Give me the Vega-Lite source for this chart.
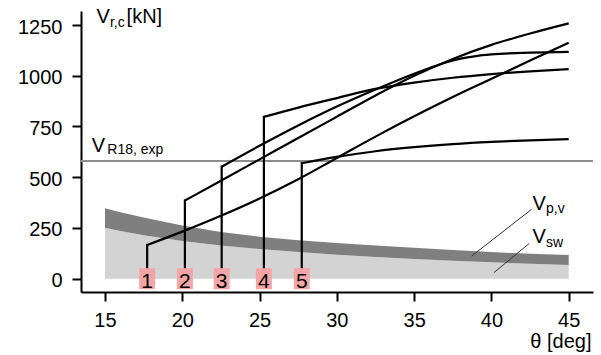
{
  "$schema": "https://vega.github.io/schema/vega-lite/v6.json",
  "width": 512,
  "height": 281,
  "autosize": {"type": "none"},
  "padding": {"left": 81, "top": 11, "right": 8, "bottom": 63},
  "config": {"view": {"stroke": null}, "font": "Liberation Sans"},
  "datasets": {
    "bands": [
      {"theta": 15, "sw": 251, "top": 347},
      {"theta": 16, "sw": 235, "top": 328},
      {"theta": 17.5, "sw": 214, "top": 302},
      {"theta": 20, "sw": 186, "top": 262},
      {"theta": 22.5, "sw": 164, "top": 230},
      {"theta": 25, "sw": 146, "top": 207},
      {"theta": 27.5, "sw": 131, "top": 190},
      {"theta": 30, "sw": 118, "top": 176},
      {"theta": 32.5, "sw": 107, "top": 163},
      {"theta": 35, "sw": 97, "top": 152},
      {"theta": 37.5, "sw": 89, "top": 141},
      {"theta": 40, "sw": 81, "top": 131},
      {"theta": 42.5, "sw": 74, "top": 123},
      {"theta": 45, "sw": 68, "top": 117}
    ],
    "curves": [
      {"c": 1, "theta": 17.73, "V": 166}, {"c": 1, "theta": 20, "V": 232}, {"c": 1, "theta": 22.5, "V": 310},
      {"c": 1, "theta": 25, "V": 395}, {"c": 1, "theta": 27.5, "V": 490}, {"c": 1, "theta": 30, "V": 595},
      {"c": 1, "theta": 32.5, "V": 700}, {"c": 1, "theta": 35, "V": 800}, {"c": 1, "theta": 37.5, "V": 895},
      {"c": 1, "theta": 40, "V": 985}, {"c": 1, "theta": 42.5, "V": 1075}, {"c": 1, "theta": 45, "V": 1162},
      {"c": 2, "theta": 20.17, "V": 385}, {"c": 2, "theta": 22.5, "V": 483}, {"c": 2, "theta": 25, "V": 588},
      {"c": 2, "theta": 27.5, "V": 693}, {"c": 2, "theta": 30, "V": 798}, {"c": 2, "theta": 32.5, "V": 903},
      {"c": 2, "theta": 35, "V": 1000}, {"c": 2, "theta": 37.5, "V": 1083}, {"c": 2, "theta": 40, "V": 1152},
      {"c": 2, "theta": 42.5, "V": 1208}, {"c": 2, "theta": 45, "V": 1258},
      {"c": 3, "theta": 22.55, "V": 552}, {"c": 3, "theta": 25, "V": 655}, {"c": 3, "theta": 27.5, "V": 755},
      {"c": 3, "theta": 30, "V": 848}, {"c": 3, "theta": 32.5, "V": 932}, {"c": 3, "theta": 35, "V": 1010},
      {"c": 3, "theta": 36, "V": 1038}, {"c": 3, "theta": 37, "V": 1064}, {"c": 3, "theta": 38, "V": 1084},
      {"c": 3, "theta": 39, "V": 1097}, {"c": 3, "theta": 40, "V": 1105}, {"c": 3, "theta": 42.5, "V": 1114},
      {"c": 3, "theta": 45, "V": 1118},
      {"c": 4, "theta": 25.28, "V": 797}, {"c": 4, "theta": 27.5, "V": 843}, {"c": 4, "theta": 30, "V": 890},
      {"c": 4, "theta": 32.5, "V": 935}, {"c": 4, "theta": 35, "V": 966}, {"c": 4, "theta": 37.5, "V": 990},
      {"c": 4, "theta": 40, "V": 1008}, {"c": 4, "theta": 42.5, "V": 1022}, {"c": 4, "theta": 45, "V": 1033},
      {"c": 5, "theta": 27.73, "V": 569}, {"c": 5, "theta": 30, "V": 600}, {"c": 5, "theta": 32.5, "V": 628},
      {"c": 5, "theta": 35, "V": 648}, {"c": 5, "theta": 37.5, "V": 663}, {"c": 5, "theta": 40, "V": 674},
      {"c": 5, "theta": 42.5, "V": 682}, {"c": 5, "theta": 45, "V": 688}
    ],
    "starts": [
      {"id": "1", "theta": 17.73, "V": 166, "base": 0},
      {"id": "2", "theta": 20.17, "V": 385, "base": 0},
      {"id": "3", "theta": 22.55, "V": 552, "base": 0},
      {"id": "4", "theta": 25.28, "V": 797, "base": 0},
      {"id": "5", "theta": 27.73, "V": 569, "base": 0}
    ],
    "leaders": [
      {"seg": "pv", "theta": 38.72, "V": 112}, {"seg": "pv", "theta": 42.6, "V": 342},
      {"seg": "sw", "theta": 40.16, "V": 30}, {"seg": "sw", "theta": 42.45, "V": 174}
    ],
    "mainText": [
      {"theta": 14.46, "V": 1258, "t": "V"},
      {"theta": 16.4, "V": 1258, "t": "[kN]"},
      {"theta": 14.14, "V": 626, "t": "V"},
      {"theta": 42.66, "V": 338, "t": "V"},
      {"theta": 42.66, "V": 174, "t": "V"}
    ],
    "subText": [
      {"theta": 15.32, "V": 1241, "t": "r,c"},
      {"theta": 15.15, "V": 612, "t": "R18, exp"},
      {"theta": 43.53, "V": 322, "t": "p,v"},
      {"theta": 43.53, "V": 158, "t": "sw"}
    ],
    "ref": [{"V": 580}]
  },
  "layer": [
    {
      "data": {"name": "bands"},
      "mark": {"type": "area", "color": "#d3d3d3"},
      "encoding": {
        "x": {"field": "theta", "type": "quantitative", "scale": {"domain": [13.45, 46.57], "nice": false, "zero": false},
          "axis": {"title": "θ [deg]", "values": [15, 20, 25, 30, 35, 40, 45], "format": "d", "grid": false,
            "domainColor": "black", "domainWidth": 2, "tickColor": "black", "tickWidth": 2, "tickSize": 9,
            "labelFontSize": 20, "labelFont": "Liberation Sans", "labelColor": "black", "labelPadding": 9,
            "labelFlush": false, "labelOverlap": false,
            "titleFontSize": 20, "titleFont": "Liberation Sans", "titleFontWeight": "normal", "titleColor": "black",
            "titleAlign": "right", "titleAnchor": "end", "titleBaseline": "alphabetic", "titleX": 510, "titleY": 55}},
        "y": {"field": "sw", "type": "quantitative", "scale": {"domain": [-65.5, 1319], "nice": false, "zero": false},
          "axis": {"title": null, "values": [0, 250, 500, 750, 1000, 1250], "format": "d", "grid": false,
            "domainColor": "black", "domainWidth": 2, "tickColor": "black", "tickWidth": 2, "tickSize": 9,
            "labelFontSize": 20, "labelFont": "Liberation Sans", "labelColor": "black", "labelPadding": 10,
            "labelOffset": 2, "labelFlush": false, "labelOverlap": false}},
        "y2": {"datum": 0}
      }
    },
    {
      "data": {"name": "bands"},
      "mark": {"type": "area", "color": "#7f7f7f"},
      "encoding": {
        "x": {"field": "theta", "type": "quantitative", "scale": {"domain": [13.45, 46.57], "nice": false, "zero": false}},
        "y": {"field": "top", "type": "quantitative", "scale": {"domain": [-65.5, 1319], "nice": false, "zero": false}},
        "y2": {"field": "sw"}
      }
    },
    {
      "data": {"name": "ref"},
      "mark": {"type": "rule", "color": "#8c8c8c", "strokeWidth": 2},
      "encoding": {
        "y": {"field": "V", "type": "quantitative", "scale": {"domain": [-65.5, 1319], "nice": false, "zero": false}}
      }
    },
    {
      "data": {"name": "leaders"},
      "mark": {"type": "line", "color": "#333333", "strokeWidth": 1},
      "encoding": {
        "x": {"field": "theta", "type": "quantitative", "scale": {"domain": [13.45, 46.57], "nice": false, "zero": false}},
        "y": {"field": "V", "type": "quantitative", "scale": {"domain": [-65.5, 1319], "nice": false, "zero": false}},
        "detail": {"field": "seg"}
      }
    },
    {
      "data": {"name": "starts"},
      "mark": {"type": "rule", "color": "black", "strokeWidth": 2.2, "strokeCap": "square"},
      "encoding": {
        "x": {"field": "theta", "type": "quantitative", "scale": {"domain": [13.45, 46.57], "nice": false, "zero": false}},
        "y": {"field": "base", "type": "quantitative", "scale": {"domain": [-65.5, 1319], "nice": false, "zero": false}},
        "y2": {"field": "V"}
      }
    },
    {
      "data": {"name": "curves"},
      "mark": {"type": "line", "color": "black", "strokeWidth": 2.2, "interpolate": "monotone", "strokeJoin": "round"},
      "encoding": {
        "x": {"field": "theta", "type": "quantitative", "scale": {"domain": [13.45, 46.57], "nice": false, "zero": false}},
        "y": {"field": "V", "type": "quantitative", "scale": {"domain": [-65.5, 1319], "nice": false, "zero": false}},
        "detail": {"field": "c"}
      }
    },
    {
      "data": {"name": "starts"},
      "mark": {"type": "point", "shape": "M-0.762,-1H0.762V1H-0.762Z", "size": 441, "filled": true, "color": "#f4a6a6", "opacity": 1, "strokeWidth": 0},
      "encoding": {
        "x": {"field": "theta", "type": "quantitative", "scale": {"domain": [13.45, 46.57], "nice": false, "zero": false}},
        "y": {"field": "base", "type": "quantitative", "scale": {"domain": [-65.5, 1319], "nice": false, "zero": false}}
      }
    },
    {
      "data": {"name": "starts"},
      "mark": {"type": "text", "fontSize": 21, "font": "Liberation Sans", "color": "black", "align": "center", "baseline": "alphabetic", "dy": 9.5},
      "encoding": {
        "x": {"field": "theta", "type": "quantitative", "scale": {"domain": [13.45, 46.57], "nice": false, "zero": false}},
        "y": {"field": "base", "type": "quantitative", "scale": {"domain": [-65.5, 1319], "nice": false, "zero": false}},
        "text": {"field": "id"}
      }
    },
    {
      "data": {"name": "mainText"},
      "mark": {"type": "text", "fontSize": 20, "font": "Liberation Sans", "color": "black", "align": "left", "baseline": "alphabetic"},
      "encoding": {
        "x": {"field": "theta", "type": "quantitative", "scale": {"domain": [13.45, 46.57], "nice": false, "zero": false}},
        "y": {"field": "V", "type": "quantitative", "scale": {"domain": [-65.5, 1319], "nice": false, "zero": false}},
        "text": {"field": "t"}
      }
    },
    {
      "data": {"name": "subText"},
      "mark": {"type": "text", "fontSize": 14, "font": "Liberation Sans", "color": "black", "align": "left", "baseline": "alphabetic"},
      "encoding": {
        "x": {"field": "theta", "type": "quantitative", "scale": {"domain": [13.45, 46.57], "nice": false, "zero": false}},
        "y": {"field": "V", "type": "quantitative", "scale": {"domain": [-65.5, 1319], "nice": false, "zero": false}},
        "text": {"field": "t"}
      }
    }
  ]
}
